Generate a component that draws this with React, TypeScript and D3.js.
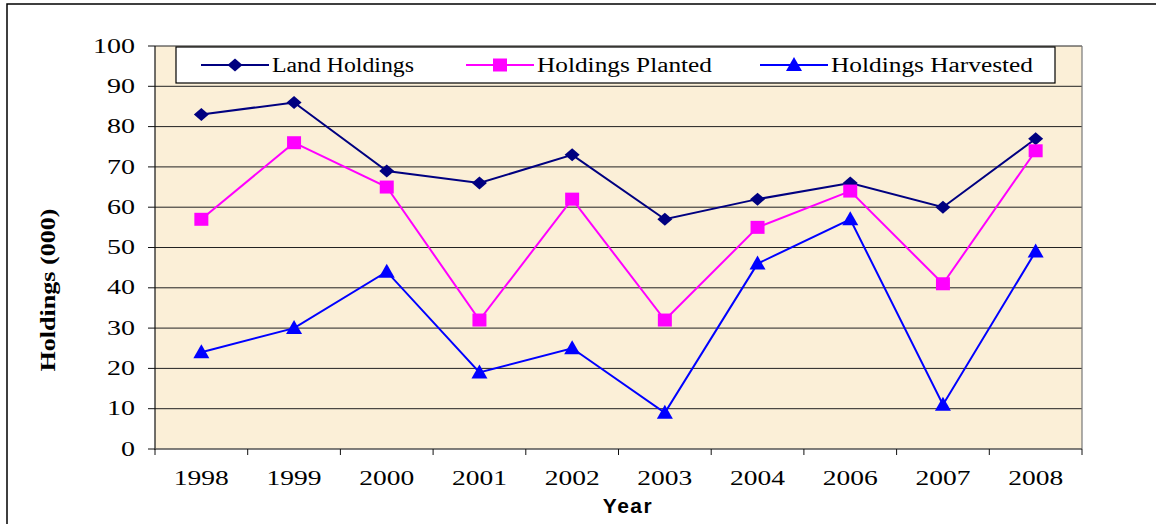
import * as React from "react";
import * as d3 from "d3";

const years = ["1998", "1999", "2000", "2001", "2002", "2003", "2004", "2006", "2007", "2008"];
const landHoldings = [83, 86, 69, 66, 73, 57, 62, 66, 60, 77];
const holdingsPlanted = [57, 76, 65, 32, 62, 32, 55, 64, 41, 74];
const holdingsHarvested = [24, 30, 44, 19, 25, 9, 46, 57, 11, 49];
const yTicks = [0, 10, 20, 30, 40, 50, 60, 70, 80, 90, 100];

const seriesNames = ["Land Holdings", "Holdings Planted", "Holdings Harvested"];
const seriesColors = ["#000080", "#FF00FF", "#0000FF"];
const seriesMarkers = ["diamond", "square", "triangle"];

const W = 1156;
const H = 524;
const plot = { left: 155, right: 1082, top: 46, bottom: 449 };

const serif = { fontFamily: "Liberation Serif, Times New Roman, Times, serif" };
const sans = { fontFamily: "Liberation Sans, Arial, Helvetica, sans-serif" };

function markerPath(kind: string) {
  // small custom shapes, close to the Excel markers
  const p = d3.path();
  if (kind === "diamond") {
    p.moveTo(0, -6.5); p.lineTo(7.5, 0); p.lineTo(0, 6.5); p.lineTo(-7.5, 0); p.closePath();
  } else if (kind === "square") {
    p.rect(-7, -6.5, 14, 13);
  } else {
    p.moveTo(0, -8); p.lineTo(8, 6); p.lineTo(-8, 6); p.closePath();
  }
  return p.toString();
}

export default function App() {
  const x = d3.scaleBand<string>().domain(years).range([plot.left, plot.right]);
  const y = d3.scaleLinear().domain([0, 100]).range([plot.bottom, plot.top]);
  const allSeries = [landHoldings, holdingsPlanted, holdingsHarvested];
  const cx = (i: number) => (x(years[i]) as number) + x.bandwidth() / 2;
  const line = d3.line<number>().x((_, i) => cx(i)).y((d) => y(d));

  // legend layout (line start, text width)
  const legendItems = [
    { x0: 201, tw: 142 },
    { x0: 466, tw: 175 },
    { x0: 760, tw: 202 },
  ];
  const legendY = 65;

  return (
    <svg width={W} height={H} style={{ position: "absolute", left: 0, top: 0 }}>
      <rect x={0} y={0} width={W} height={H} fill="#fff" />
      {/* outer chart frame, cropped on the right and bottom */}
      <rect x={7} y={4} width={W + 20} height={H + 20} fill="none" stroke="#000" strokeWidth={1.5} />

      <rect x={plot.left} y={plot.top} width={plot.right - plot.left} height={plot.bottom - plot.top} fill="#FBEFD7" />

      {/* gridlines */}
      {yTicks.filter((t) => t > 0).map((t) => (
        <line key={t} x1={plot.left} x2={plot.right} y1={y(t)} y2={y(t)} stroke="#222" strokeWidth={1} />
      ))}
      <line x1={plot.right} x2={plot.right} y1={plot.top} y2={plot.bottom} stroke="#777" strokeWidth={1.2} />
      <line x1={plot.left} x2={plot.left} y1={plot.top} y2={plot.bottom + 1} stroke="#111" strokeWidth={1.2} />
      <line x1={plot.left} x2={plot.right} y1={plot.bottom} y2={plot.bottom} stroke="#555" strokeWidth={1.5} />

      {/* y ticks */}
      {yTicks.map((t) => (
        <g key={t}>
          <line x1={plot.left - 7} x2={plot.left} y1={y(t)} y2={y(t)} stroke="#111" strokeWidth={1} />
          <text x={135} y={y(t)} dy="0.33em" textAnchor="end" style={serif} fontSize={20}
            textLength={String(t).length * 14} lengthAdjust="spacingAndGlyphs" fill="#000">
            {t}
          </text>
        </g>
      ))}

      {/* x ticks */}
      {years.map((yr) => (
        <line key={"t" + yr} x1={x(yr)} x2={x(yr)} y1={plot.bottom} y2={plot.bottom + 6} stroke="#111" strokeWidth={1} />
      ))}
      <line x1={plot.right} x2={plot.right} y1={plot.bottom} y2={plot.bottom + 6} stroke="#111" strokeWidth={1} />
      {years.map((yr, i) => (
        <text key={yr} x={cx(i)} y={485} textAnchor="middle"
          style={serif} fontSize={20} textLength={55} lengthAdjust="spacingAndGlyphs" fill="#000">
          {yr}
        </text>
      ))}

      {/* axis titles */}
      <text x={628} y={513} textAnchor="middle" style={sans} fontWeight="bold" fontSize={21} letterSpacing={1.5} fill="#000">
        Year
      </text>
      <text transform="translate(55,290) rotate(-90)" textAnchor="middle" style={serif} fontWeight="bold"
        fontSize={22} textLength={163} lengthAdjust="spacingAndGlyphs" fill="#000">
        Holdings (000)
      </text>

      {/* series */}
      {allSeries.map((s, si) => (
        <g key={si}>
          <path d={line(s) as string} fill="none" stroke={seriesColors[si]} strokeWidth={2} />
          {s.map((v, i) => (
            <path key={i} d={markerPath(seriesMarkers[si])} transform={`translate(${cx(i)},${y(v)})`} fill={seriesColors[si]} />
          ))}
        </g>
      ))}

      {/* legend */}
      <rect x={176} y={47} width={879} height={36} fill="#fff" stroke="#000" strokeWidth={1.2} />
      {seriesNames.map((name, i) => (
        <g key={name}>
          <line x1={legendItems[i].x0} x2={legendItems[i].x0 + 68} y1={legendY} y2={legendY} stroke={seriesColors[i]} strokeWidth={2} />
          <path d={markerPath(seriesMarkers[i])} transform={`translate(${legendItems[i].x0 + 34},${legendY})`} fill={seriesColors[i]} />
          <text x={legendItems[i].x0 + 71} y={legendY} dy="0.35em" style={serif} fontSize={20}
            textLength={legendItems[i].tw} lengthAdjust="spacingAndGlyphs" fill="#000">
            {name}
          </text>
        </g>
      ))}
    </svg>
  );
}
